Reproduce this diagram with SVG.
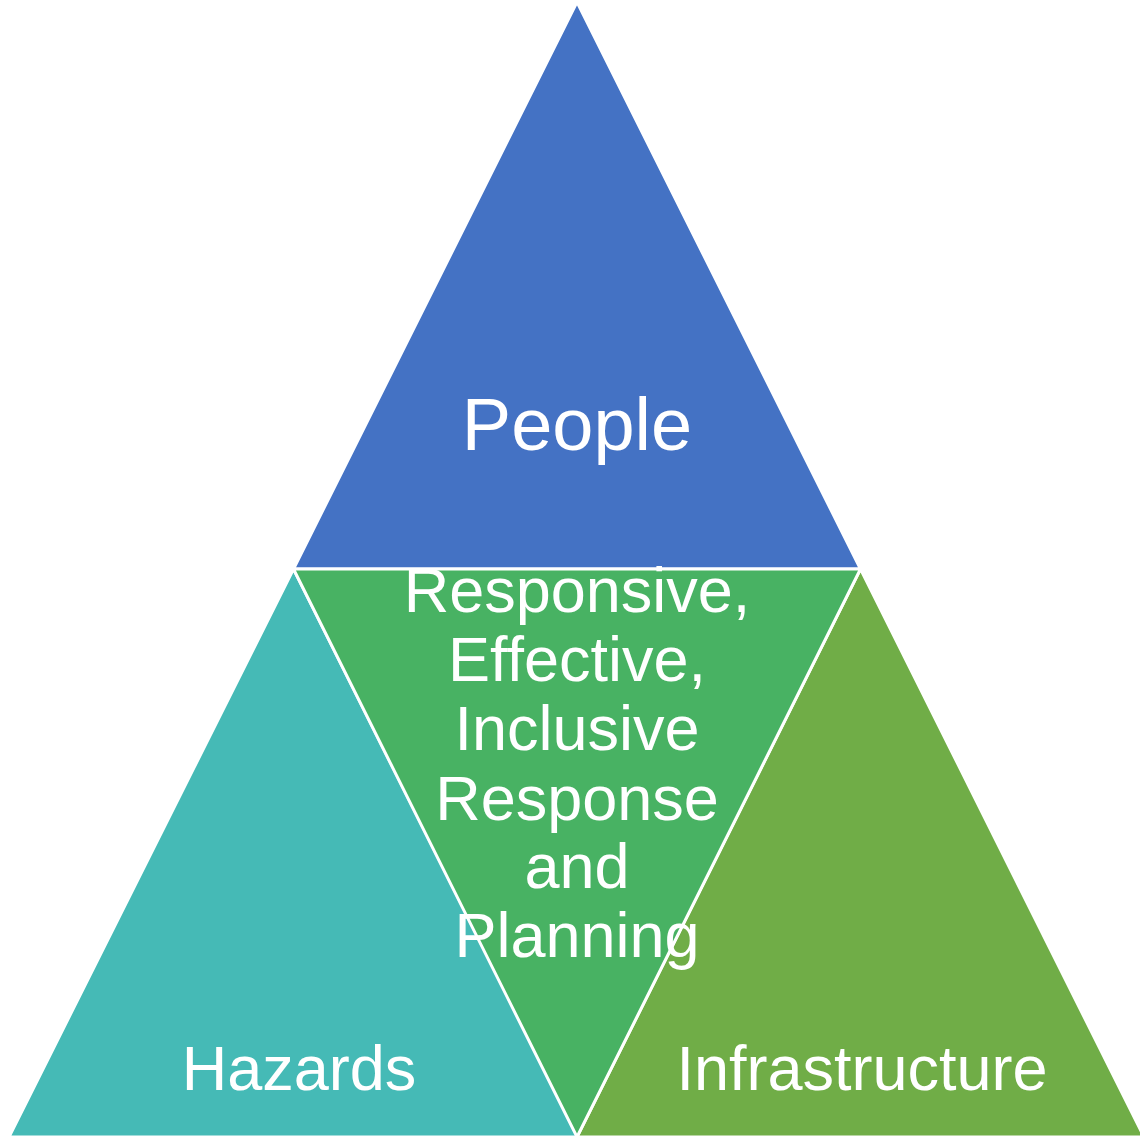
<svg xmlns="http://www.w3.org/2000/svg" width="1140" height="1138" viewBox="0 0 1140 1138">
<style>
.tri{stroke:#ffffff;stroke-width:3;stroke-linejoin:miter}
.lbl{font-family:"Liberation Sans",Arial,sans-serif;fill:#ffffff;text-anchor:middle;font-variant-ligatures:none}
.mid{font-size:63px}
</style>
<rect width="1140" height="1138" fill="#ffffff"/>
<g id="people">
<polygon class="tri" points="577,2 293.5,569 860.5,569" fill="#4472C4"/>
<text class="lbl" x="577" y="450" font-size="74">People</text>
</g>
<g id="hazards">
<polygon class="tri" points="293.5,569 9,1137 578,1137" fill="#45BAB6"/>
<text class="lbl" x="299" y="1090" font-size="63">Hazards</text>
</g>
<g id="infrastructure">
<polygon class="tri" points="860.5,569 577,1137 1144,1137" fill="#70AD47"/>
<text class="lbl" x="862" y="1090" font-size="63">Infrastructure</text>
</g>
<g id="center">
<polygon class="tri" points="293.5,569 860.5,569 577,1137" fill="#48B263"/>
<text class="lbl mid" x="577" y="612">Responsive,</text>
<text class="lbl mid" x="577" y="681">Effective,</text>
<text class="lbl mid" x="577" y="750">Inclusive</text>
<text class="lbl mid" x="577" y="820">Response</text>
<text class="lbl mid" x="577" y="888">and</text>
<text class="lbl mid" x="577" y="957">Planning</text>
</g>
<g id="connectors"/>
</svg>
